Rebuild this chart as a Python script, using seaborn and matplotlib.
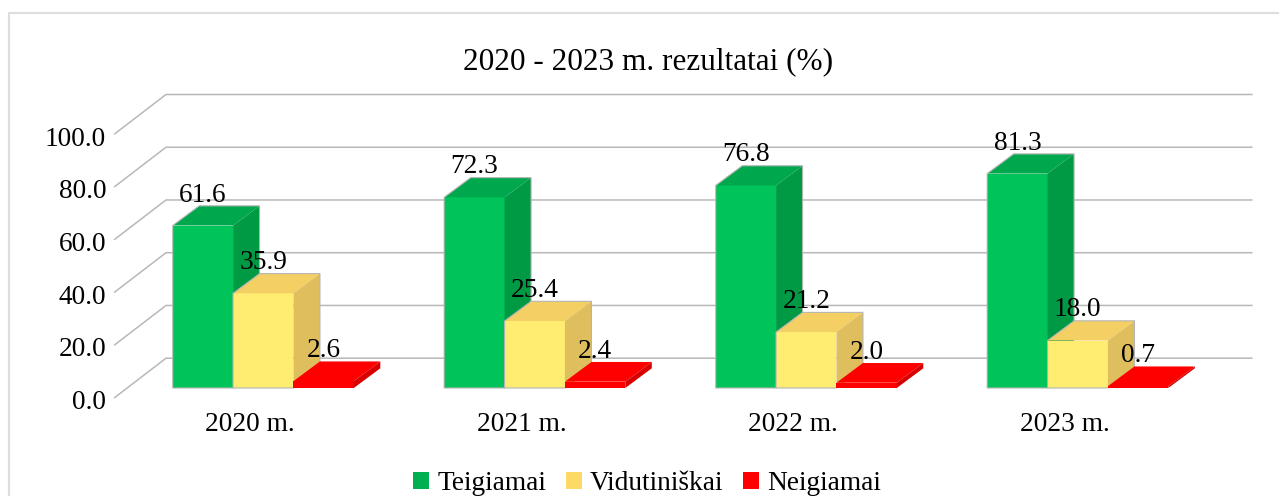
import pandas as pd
import matplotlib.pyplot as plt
import seaborn as sns
from matplotlib.lines import Line2D
from matplotlib.patches import Patch, Polygon
from matplotlib.transforms import ScaledTranslation

years = ['2020 m.', '2021 m.', '2022 m.', '2023 m.']
series_names = ['Teigiamai', 'Vidutiniškai', 'Neigiamai']
teigiamai = [61.6, 72.3, 76.8, 81.3]
vidutiniskai = [35.9, 25.4, 21.2, 18.0]
neigiamai = [2.6, 2.4, 2.0, 0.7]
y_ticks = [0, 20, 40, 60, 80, 100]

front_colors = ['#00C45A', '#FFED72', '#FF0000']
top_colors = ['#00A84D', '#F4D064', '#FF0000']
side_colors = ['#009A45', '#DFBE5D', '#D80000']
legend_colors = ['#00B050', '#FFD966', '#FF0000']
edge_colors = ['#B4B4B4', '#B4B4B4', 'none']
edge_gray = '#B8B8B8'
font_size = 19.7

W, H = 1279, 496
sns.set_theme(style='white')
plt.rcParams['font.family'] = ['Liberation Serif', 'DejaVu Serif']

df = pd.DataFrame({'Metai': years * 3,
                   'Serija': [n for n in series_names for _ in years],
                   'Reiksme': teigiamai + vidutiniskai + neigiamai})

fig = plt.figure(figsize=(W / 100, H / 100), dpi=100)
# front plane of the 3D box in pixels: x 114.5-1200.5, y 134-397.7
ax = fig.add_axes([114.5 / W, 1 - 397.7 / H, 1086 / W, 263.7 / H])

sns.barplot(data=df, x='Metai', y='Reiksme', hue='Serija', order=years,
            hue_order=series_names, palette=front_colors, width=0.667,
            gap=0, saturation=1, legend=False, ax=ax)
ax.set_xlim(-0.5, 3.5)
ax.set_ylim(0, 100)

# depth of the box in data units
px_x = 4 / 1086
px_y = 100 / 263.7
box_dx, box_dy = 51.5 * px_x, 39.5 * px_y
bar_dx, bar_dy = 26.5 * px_x, 19.7 * px_y
shift_x, shift_y = 13 * px_x, 9.7 * px_y

# walls: diagonal on the left and line along the back
for v in y_ticks:
    ax.plot([-0.5, -0.5 + box_dx, 3.5 + box_dx], [v, v + box_dy, v + box_dy],
            color=edge_gray, lw=1.1, clip_on=False, zorder=1,
            solid_joinstyle='miter')

values = [teigiamai, vidutiniskai, neigiamai]
for i, cont in enumerate(ax.containers):
    z = 3 + i
    for j, bar in enumerate(cont):
        x0 = bar.get_x() + shift_x
        w = bar.get_width()
        y0 = shift_y
        y1 = y0 + bar.get_height()
        bar.set_x(x0)
        bar.set_y(y0)
        bar.set_linewidth(0)
        bar.set_clip_on(False)
        bar.set_zorder(z)
        top = [(x0, y1), (x0 + w, y1), (x0 + w + bar_dx, y1 + bar_dy), (x0 + bar_dx, y1 + bar_dy)]
        side = [(x0 + w, y0), (x0 + w + bar_dx, y0 + bar_dy), (x0 + w + bar_dx, y1 + bar_dy), (x0 + w, y1)]
        outline = [(x0, y0), (x0, y1), (x0 + bar_dx, y1 + bar_dy), (x0 + w + bar_dx, y1 + bar_dy),
                   (x0 + w + bar_dx, y0 + bar_dy), (x0 + w, y0)]
        ax.add_patch(Polygon(top, fc=top_colors[i], ec='none', clip_on=False, zorder=z))
        ax.add_patch(Polygon(side, fc=side_colors[i], ec='none', clip_on=False, zorder=z))
        ax.add_patch(Polygon(outline, fc='none', ec=edge_colors[i], lw=0.8, clip_on=False, zorder=z))
        ax.annotate(f'{values[i][j]:.1f}', (x0 + w / 2, y1), xytext=(0, 22),
                    textcoords='offset points', ha='center', va='center',
                    fontsize=font_size, color='black', zorder=20, annotation_clip=False)

ax.set_yticks(y_ticks)
ax.set_yticklabels([f'{v:.1f}' for v in y_ticks])
ax.set_xlabel('')
ax.set_ylabel('')
ax.tick_params(axis='y', length=0, pad=6, labelsize=font_size, colors='black')
ax.tick_params(axis='x', length=0, pad=10.5, labelsize=font_size, colors='black')
# y labels sit a little below their tick level
for lab in ax.get_yticklabels():
    lab.set_transform(lab.get_transform() + ScaledTranslation(0, -2 / 100, fig.dpi_scale_trans))
sns.despine(ax=ax, left=True, bottom=True)
ax.patch.set_alpha(0)

fig.text(648.5 / W, 1 - 62 / H, '2020 - 2023 m. rezultatai (%)', ha='center',
         va='center', fontsize=22.5, color='black')

handles = [Patch(fc=c, ec='none') for c in legend_colors]
fig.legend(handles, series_names, loc='center', bbox_to_anchor=(647 / W, 1 - 484 / H),
           ncol=3, frameon=False, fontsize=font_size, borderpad=0, handlelength=0.585,
           handleheight=0.585, handletextpad=0.3, columnspacing=0.72, labelcolor='black')

# chart border: only top and left reach into the crop
fig.add_artist(Line2D([8.5 / W, 8.5 / W, 1], [0, 1 - 12.5 / H, 1 - 12.5 / H],
                      color='#DEDEDE', lw=1.6, transform=fig.transFigure))

fig.savefig('out.png', dpi=100)
